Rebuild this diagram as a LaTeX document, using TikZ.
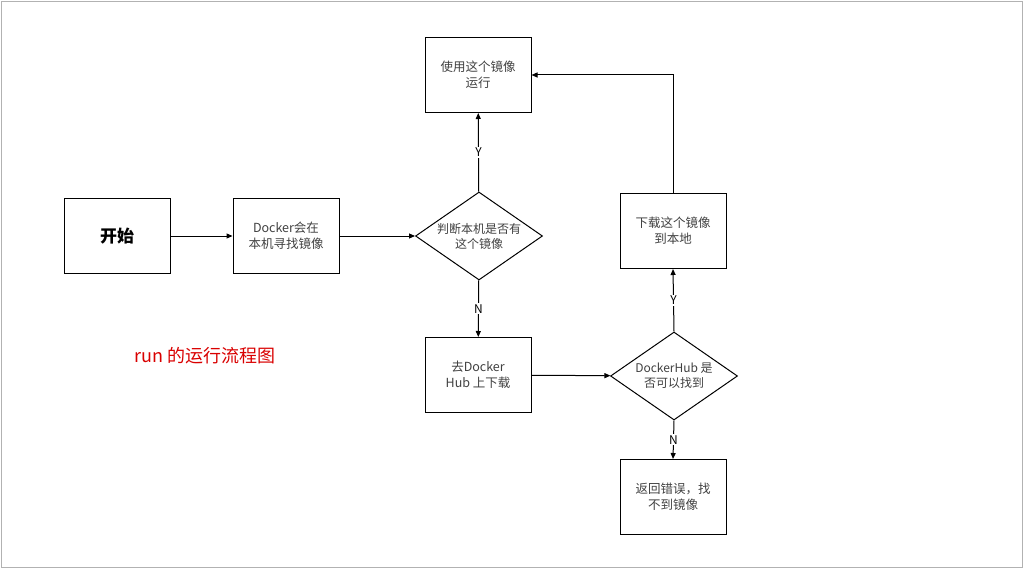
\documentclass[tikz,border=0pt]{standalone}
\usepackage{fontspec}
\setmainfont{Noto Sans CJK SC}
\usetikzlibrary{shapes.geometric,arrows.meta}
\begin{document}
\begin{tikzpicture}[x=1pt,y=-1pt,
  box/.style={draw,line width=1pt,minimum width=106pt,minimum height=75pt,align=center,font=\fontsize{12.5}{16}\selectfont,text=black!75},
  dia/.style={draw,line width=1pt,diamond,aspect=1.43,inner sep=0pt,minimum width=127pt,minimum height=88pt,align=center,font=\fontsize{12}{15}\selectfont,text=black!75},
  arr/.style={-{Triangle[length=6pt,width=5pt]},line width=1pt},
  lab/.style={font=\fontsize{12}{14}\selectfont,fill=white,inner sep=1pt}]
\useasboundingbox (0,0) rectangle (1024,569);
\draw[gray!60] (1,1) rectangle (1022,567);
\node[box,font=\fontsize{17}{20}\selectfont\bfseries,text=black] (start) at (117,236) {开始};
\node[box] (dock) at (286,236) {Docker会在\\本机寻找镜像};
\node[dia] (d1) at (479,236) {判断本机是否有\\这个镜像};
\node[box] (use) at (478,75) {使用这个镜像\\运行};
\node[box] (hub) at (478,375) {去Docker\\Hub 上下载};
\node[dia] (d2) at (674,376) {DockerHub 是\\否可以找到};
\node[box] (dl) at (673,231) {下载这个镜像\\到本地};
\node[box] (err) at (673,497) {返回错误，找\\不到镜像};
\node[text=red!85!black,font=\fontsize{18}{20}\selectfont] (title) at (205,356) {run 的运行流程图};
\draw[arr] (start) -- (dock);
\draw[arr] (dock) -- (d1);
\draw[arr] (d1) -- node[lab]{Y} (use);
\draw[arr] (d1) -- node[lab]{N} (hub);
\draw[arr] (hub) -- (d2);
\draw[arr] (d2.north) -- node[lab]{Y} (dl.south);
\draw[arr] (d2.south) -- node[lab]{N} (err.north);
\draw[arr] (dl.north) |- (use.east);
\end{tikzpicture}
\end{document}
